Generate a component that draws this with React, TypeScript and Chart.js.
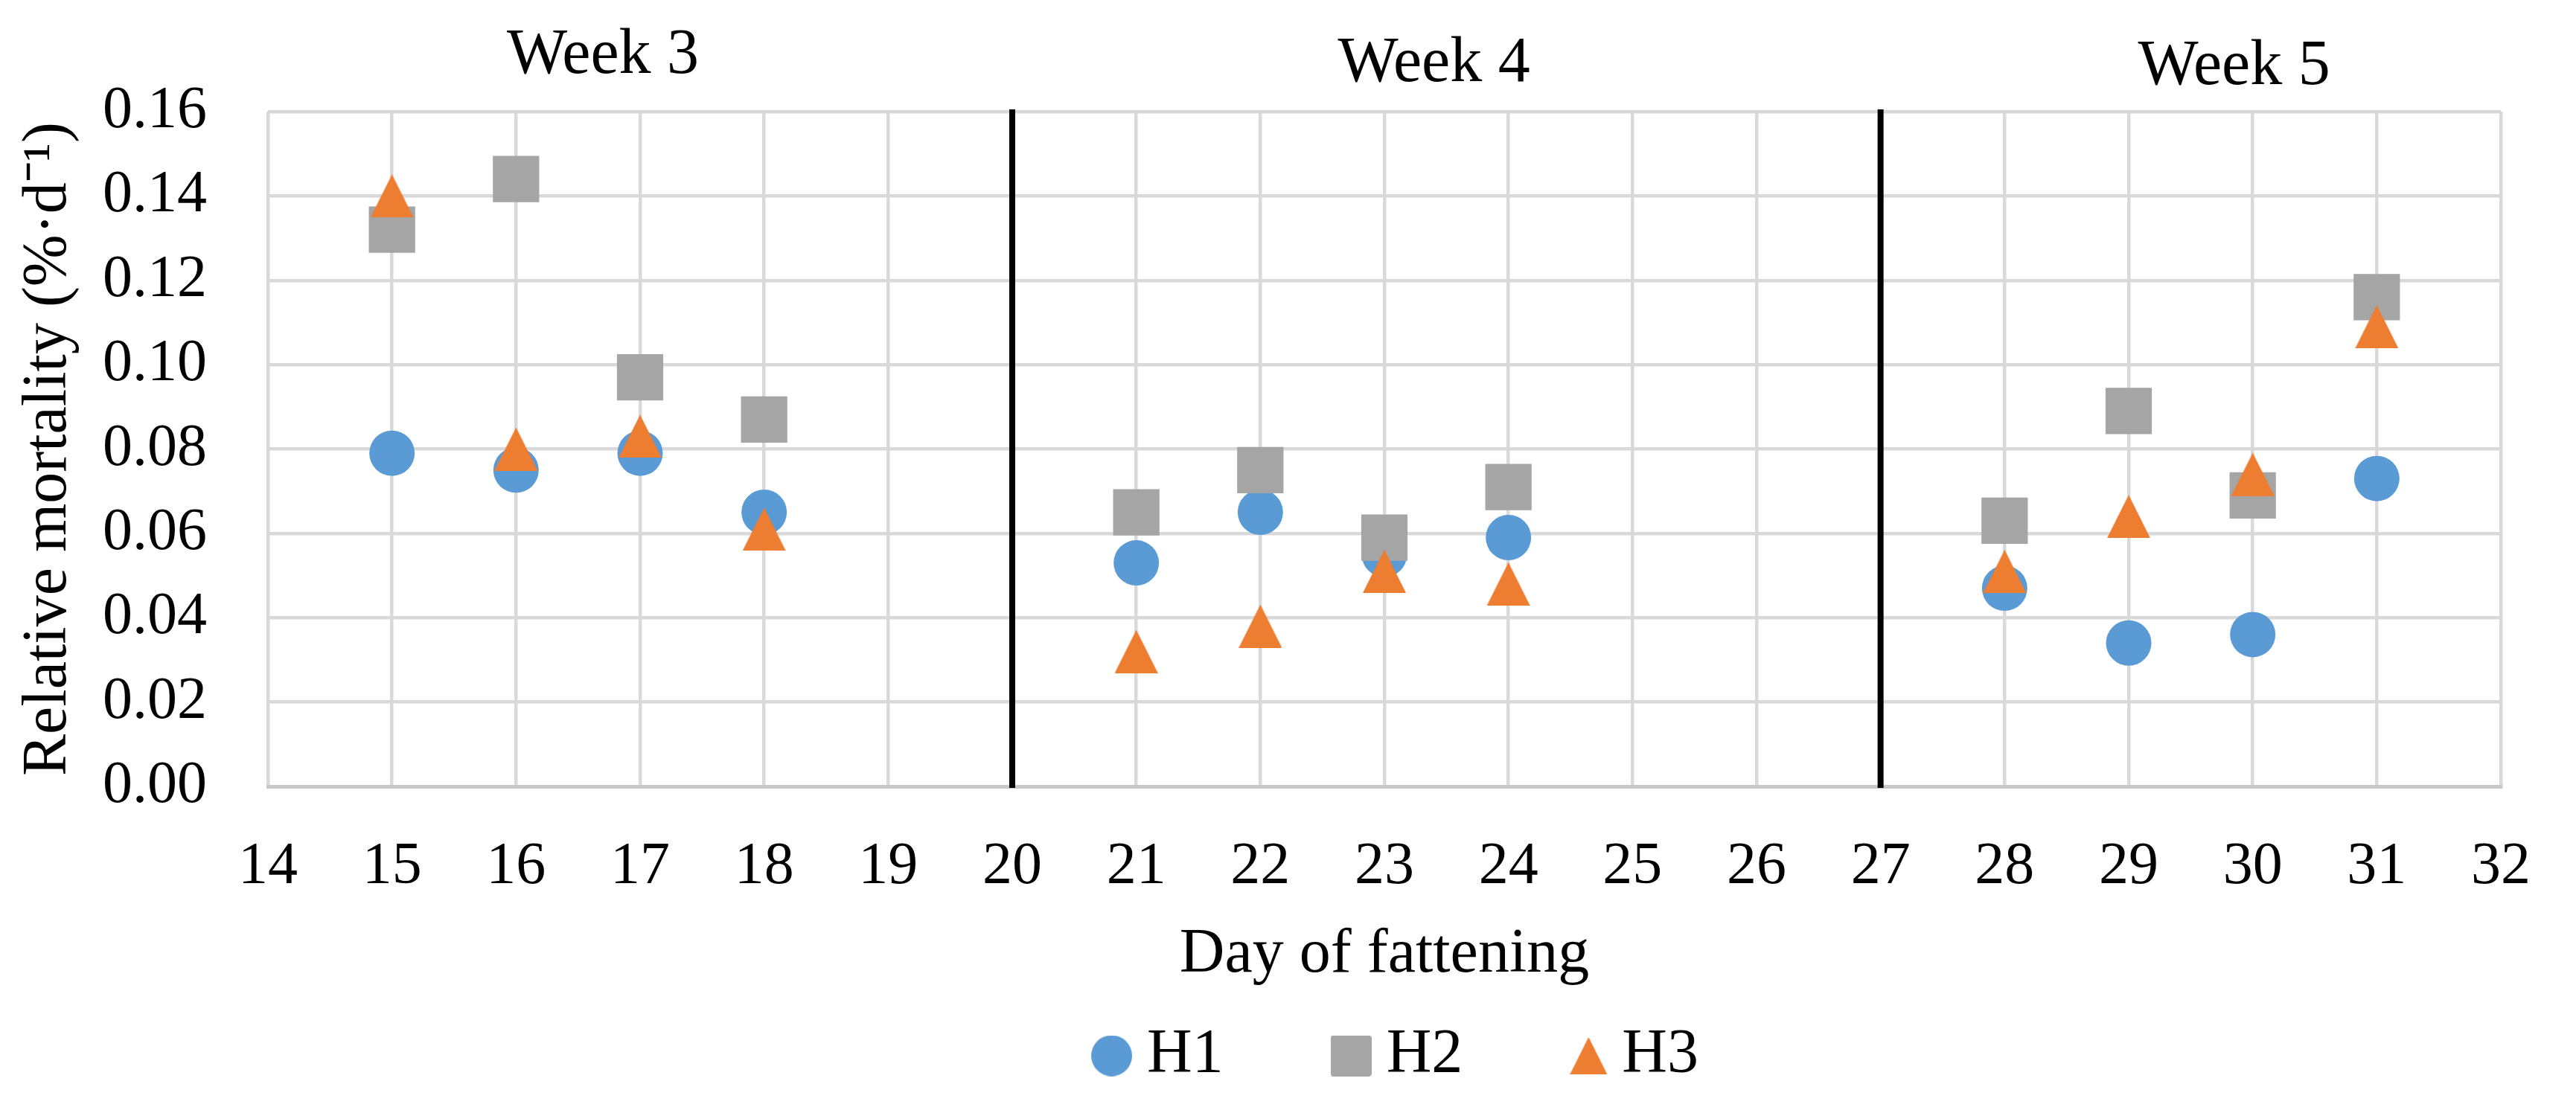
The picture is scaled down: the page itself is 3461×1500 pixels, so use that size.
import React, { useEffect, useRef } from 'react';
import { Chart, registerables } from 'chart.js';

Chart.register(...registerables);

// ---------- data ----------
const days = [15, 16, 17, 18, 21, 22, 23, 24, 28, 29, 30, 31];
const h1Values = [0.079, 0.075, 0.079, 0.065, 0.053, 0.065, 0.055, 0.059, 0.047, 0.034, 0.036, 0.073];
const h2Values = [0.132, 0.144, 0.097, 0.087, 0.065, 0.075, 0.059, 0.071, 0.063, 0.089, 0.069, 0.116];
const h3Values = [0.140, 0.080, 0.083, 0.061, 0.032, 0.038, 0.051, 0.048, 0.051, 0.064, 0.074, 0.109];
const seriesNames = ['H1', 'H2', 'H3'];
const weekLabels = ['Week 3', 'Week 4', 'Week 5'];
const weekLabelDays = [16.7, 23.4, 29.85];
const weekDividerDays = [20, 27];
const xMin = 14;
const xMax = 32;
const xStep = 1;
const yMin = 0;
const yMax = 0.16;
const yStep = 0.02;

// ---------- styles ----------
const FONT = '"Liberation Serif", "Times New Roman", serif';
const TEXT = '#000000';
const GRID = '#D9D9D9';
const COLORS = ['#5B9BD5', '#A5A5A5', '#ED7D31'];
const SHAPES = ['circle', 'rect', 'triangle'];

function makeMarker(shape: string, size: number, color: string): HTMLCanvasElement {
  const c = document.createElement('canvas');
  c.width = size;
  c.height = size;
  const g = c.getContext('2d')!;
  g.fillStyle = color;
  g.beginPath();
  if (shape === 'circle') {
    g.arc(size / 2, size / 2, size / 2, 0, Math.PI * 2);
  } else if (shape === 'rect') {
    const r = size * 0.07;
    g.moveTo(r, 0);
    g.lineTo(size - r, 0);
    g.quadraticCurveTo(size, 0, size, r);
    g.lineTo(size, size - r);
    g.quadraticCurveTo(size, size, size - r, size);
    g.lineTo(r, size);
    g.quadraticCurveTo(0, size, 0, size - r);
    g.lineTo(0, r);
    g.quadraticCurveTo(0, 0, r, 0);
  } else {
    g.moveTo(size / 2, 0);
    g.lineTo(size, size);
    g.lineTo(0, size);
  }
  g.closePath();
  g.fill();
  return c;
}

const overlayPlugin = {
  id: 'overlay',
  beforeDatasetsDraw(chart: any) {
    const { ctx, chartArea, scales } = chart;
    const x = scales.x;
    ctx.save();
    ctx.strokeStyle = '#000000';
    ctx.lineWidth = 8;
    weekDividerDays.forEach((d) => {
      const px = x.getPixelForValue(d);
      ctx.beginPath();
      ctx.moveTo(px, chartArea.top - 3);
      ctx.lineTo(px, chartArea.bottom + 2);
      ctx.stroke();
    });
    ctx.restore();
  },
  afterDraw(chart: any) {
    const { ctx, chartArea, scales } = chart;
    const x = scales.x;
    ctx.save();
    // week labels
    ctx.fillStyle = TEXT;
    ctx.font = `86px ${FONT}`;
    ctx.textAlign = 'center';
    ctx.textBaseline = 'alphabetic';
    const baselineOffsets = [52, 41, 37];
    weekLabels.forEach((t, i) => {
      ctx.fillText(t, x.getPixelForValue(weekLabelDays[i]), chartArea.top - baselineOffsets[i]);
    });
    // legend
    const legendY = 1419;
    const markerSizes = [55, 55, 50];
    const gapMarkerText = 20;
    const gapItems = 144;
    ctx.font = `84px ${FONT}`;
    ctx.textAlign = 'left';
    ctx.textBaseline = 'middle';
    const widths = seriesNames.map((n, i) => markerSizes[i] + gapMarkerText + ctx.measureText(n).width);
    const total = widths.reduce((a, b) => a + b, 0) + gapItems * (seriesNames.length - 1);
    let cx = (chartArea.left + chartArea.right) / 2 + 14 - total / 2;
    seriesNames.forEach((n, i) => {
      const m = makeMarker(SHAPES[i], markerSizes[i], COLORS[i]);
      ctx.drawImage(m, cx, legendY - markerSizes[i] / 2);
      ctx.fillStyle = TEXT;
      ctx.fillText(n, cx + markerSizes[i] + gapMarkerText, legendY);
      cx += widths[i] + gapItems;
    });
    ctx.restore();
  },
};

export default function App() {
  const canvasRef = useRef<HTMLCanvasElement | null>(null);

  useEffect(() => {
    if (!canvasRef.current) return;
    const triangleMarker = makeMarker('triangle', 58, COLORS[2]);
    const toPoints = (vals: number[]) => days.map((d, i) => ({ x: d, y: vals[i] }));
    const chart = new Chart(canvasRef.current, {
      type: 'scatter',
      data: {
        datasets: [
          {
            label: seriesNames[0],
            data: toPoints(h1Values),
            backgroundColor: COLORS[0],
            borderColor: COLORS[0],
            pointStyle: 'circle',
            pointRadius: 30.5,
            pointHoverRadius: 30.5,
            pointBorderWidth: 0,
            order: 3,
          },
          {
            label: seriesNames[1],
            data: toPoints(h2Values),
            backgroundColor: COLORS[1],
            borderColor: COLORS[1],
            pointStyle: 'rect',
            pointRadius: 44,
            pointHoverRadius: 44,
            pointBorderWidth: 0,
            order: 2,
          },
          {
            label: seriesNames[2],
            data: toPoints(h3Values),
            backgroundColor: COLORS[2],
            borderColor: COLORS[2],
            pointStyle: triangleMarker as any,
            pointRadius: 29,
            pointHoverRadius: 29,
            pointBorderWidth: 0,
            order: 1,
          },
        ],
      },
      options: {
        animation: false,
        responsive: true,
        maintainAspectRatio: false,
        devicePixelRatio: 1,
        events: [],
        layout: { padding: { top: 150, right: 58, bottom: 0, left: 0 } },
        plugins: {
          legend: { display: false },
          tooltip: { enabled: false },
        },
        scales: {
          x: {
            type: 'linear',
            min: xMin,
            max: xMax,
            ticks: {
              stepSize: xStep,
              padding: 61,
              color: TEXT,
              font: { family: FONT, size: 80 },
              maxRotation: 0,
              autoSkip: false,
            },
            grid: { color: GRID, lineWidth: 4.5, drawTicks: false },
            border: { display: true, color: '#C8C8C8', width: 5 },
            title: {
              display: true,
              text: 'Day of fattening',
              color: TEXT,
              font: { family: FONT, size: 84 },
              padding: { top: 0, bottom: 166 },
            },
            afterFit: (s: any) => {
              s.height = 443;
            },
          },
          y: {
            type: 'linear',
            min: yMin,
            max: yMax,
            ticks: {
              stepSize: yStep,
              padding: 82,
              color: TEXT,
              font: { family: FONT, size: 80 },
              callback: (v: any) => Number(v).toFixed(2),
            },
            grid: { color: GRID, lineWidth: 4.5, drawTicks: false },
            border: { display: false },
            title: {
              display: true,
              text: 'Relative mortality (%·d⁻¹)',
              color: TEXT,
              font: { family: FONT, size: 84 },
              padding: { top: 16, bottom: 0 },
            },
            afterFit: (s: any) => {
              s.width = 360;
            },
          },
        },
      },
      plugins: [overlayPlugin],
    });
    return () => chart.destroy();
  }, []);

  return (
    <div style={{ position: 'absolute', left: 0, top: 0, width: 3461, height: 1500, background: '#ffffff' }}>
      <canvas ref={canvasRef} />
    </div>
  );
}
